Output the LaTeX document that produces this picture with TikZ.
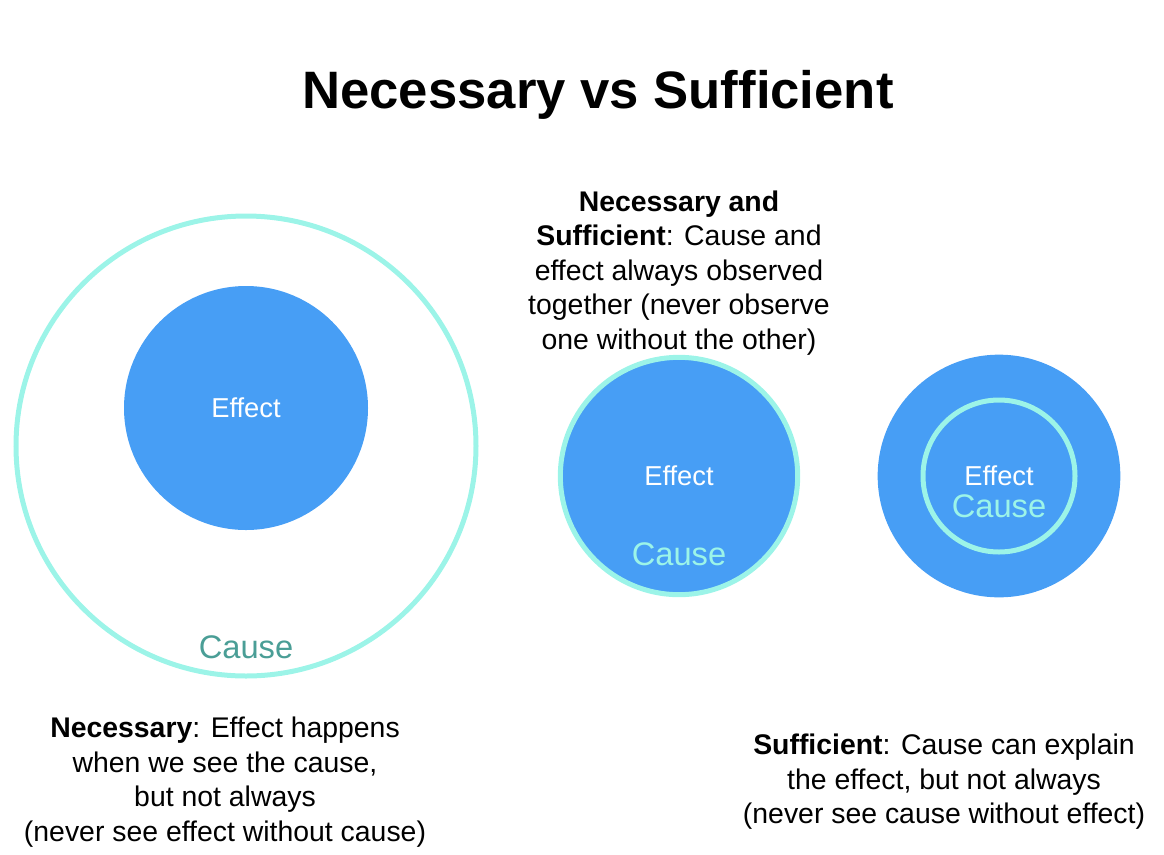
\documentclass[tikz,border=0pt]{standalone}
\usepackage{fontspec}
\setmainfont{Liberation Sans}
\usepackage{tikz}
\usetikzlibrary{positioning}
\definecolor{fxblue}{HTML}{479EF5}
\definecolor{ring}{HTML}{9CF4E8}
\definecolor{causeteal}{HTML}{4A9E96}
\tikzset{disc/.style={circle,fill=fxblue,inner sep=0pt},
  causering/.style={circle,draw=ring,line width=3.75pt,inner sep=0pt},
  efflab/.style={text=white,font=\fontsize{20.5}{22}\selectfont},
  causelab/.style={font=\fontsize{24.5}{27}\selectfont},
  caption/.style={align=center,font=\fontsize{21.3}{25.9}\selectfont}}

\begin{document}
\begin{tikzpicture}[x=0.75pt,y=-0.75pt]
\useasboundingbox (0,0) rectangle (1164,854);
\node[font=\fontsize{39.5}{44}\selectfont\bfseries] (title) at (598,95) {Necessary vs Sufficient};
% necessary
\node[causering,minimum size=345pt] (necCause) at (246,446) {};
\node[disc,minimum size=183pt] (necEffect) at (246,408) {};
\node[efflab] (necEffLab) at (necEffect) {Effect};
\node[causelab,text=causeteal] (necCauseLab) at (246,647) {Cause};
\node[caption] (necText) at (225,782) {\textbf{Necessary}: Effect happens\\when we see the cause,\\but not always\\(never see effect without cause)};
% necessary and sufficient
\node[disc,draw=ring,line width=3.75pt,minimum size=178pt] (bothCause) at (679,476) {};
\node[efflab] (bothEffLab) at (bothCause) {Effect};
\node[causelab,text=ring] (bothCauseLab) at (679,554) {Cause};
\node[caption] (bothText) at (679,273) {\textbf{Necessary and}\\\textbf{Sufficient}: Cause and\\effect always observed\\together (never observe\\one without the other)};
% sufficient
\node[disc,minimum size=182pt] (sufEffect) at (999,476) {};
\node[causering,minimum size=114pt] (sufCause) at (999,476) {};
\node[efflab] (sufEffLab) at (999,476) {Effect};
\node[causelab,text=ring] (sufCauseLab) at (999,506) {Cause};
\node[caption] (sufText) at (944,782) {\textbf{Sufficient}: Cause can explain\\the effect, but not always\\(never see cause without effect)};
\end{tikzpicture}
\end{document}
